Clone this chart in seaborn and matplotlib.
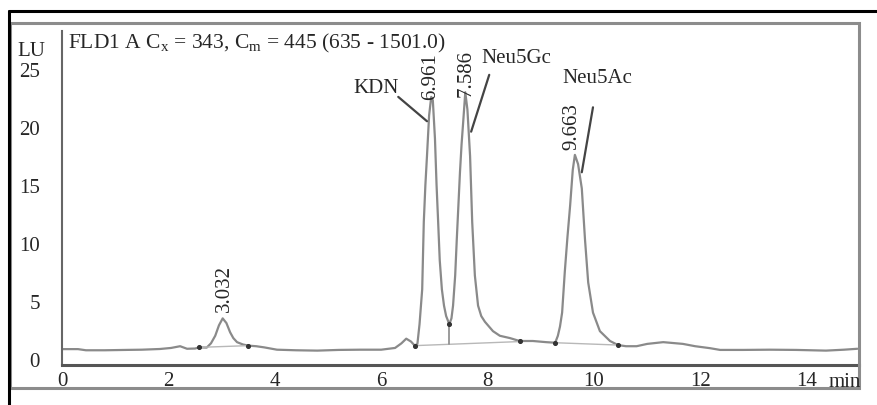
import matplotlib
matplotlib.use("Agg")
import matplotlib.pyplot as plt
import seaborn as sns
import pandas as pd
from matplotlib.lines import Line2D
from matplotlib.patches import Rectangle
from matplotlib.ticker import MultipleLocator

# ---- data ----
time_min = [0.0, 0.3, 0.45, 0.8, 1.2, 1.5, 1.84, 2.05, 2.22, 2.35, 2.5, 2.58, 2.72, 2.80, 2.88,
            2.95, 3.02, 3.09, 3.16, 3.22, 3.29, 3.4, 3.5, 3.65, 3.8, 4.04, 4.4, 4.8, 5.2, 5.6,
            6.0, 6.26, 6.38, 6.47, 6.56, 6.63, 6.68, 6.72, 6.77, 6.80, 6.83, 6.86, 6.90, 6.94,
            6.97, 7.01, 7.04, 7.07, 7.10, 7.14, 7.18, 7.22, 7.28, 7.32, 7.35, 7.39, 7.42, 7.45,
            7.48, 7.51, 7.54, 7.58, 7.62, 7.67, 7.71, 7.76, 7.82, 7.88, 7.95, 8.10, 8.23, 8.42,
            8.6, 8.85, 9.1, 9.27, 9.32, 9.36, 9.40, 9.45, 9.50, 9.55, 9.60, 9.64, 9.70, 9.77,
            9.83, 9.89, 9.98, 10.11, 10.3, 10.45, 10.6, 10.8, 11.0, 11.3, 11.67, 11.9, 12.18,
            12.37, 12.8, 13.3, 13.8, 14.36, 14.7, 14.95]
signal_lu = [0.85, 0.85, 0.75, 0.75, 0.78, 0.8, 0.86, 0.95, 1.1, 0.88, 0.9, 1.0, 0.98, 1.35, 2.0,
             2.9, 3.5, 3.1, 2.3, 1.8, 1.45, 1.25, 1.15, 1.1, 1.0, 0.8, 0.75, 0.72, 0.78, 0.8,
             0.8, 0.95, 1.35, 1.75, 1.5, 1.15, 1.3, 3.0, 6.0, 11.8, 15.0, 17.5, 21.0, 22.6,
             22.3, 19.0, 15.0, 11.8, 8.5, 6.0, 4.6, 3.7, 3.0, 3.5, 4.6, 7.2, 10.3, 13.2,
             16.1, 18.5, 20.4, 23.0, 21.5, 17.5, 11.8, 7.2, 4.6, 3.7, 3.2, 2.4, 2.0, 1.8,
             1.55, 1.55, 1.45, 1.4, 2.0, 2.8, 4.0, 7.5, 10.5, 13.2, 16.3, 17.6, 16.8, 14.7,
             10.3, 6.6, 4.0, 2.4, 1.55, 1.2, 1.1, 1.1, 1.3, 1.45, 1.3, 1.1, 0.93,
             0.78, 0.78, 0.8, 0.78, 0.72, 0.8, 0.88]

# integration baselines (start, end) and levels
baseline_t = [[2.58, 3.5], [6.63, 8.6], [9.27, 10.45]]
baseline_y = [[1.0, 1.15], [1.15, 1.5], [1.4, 1.2]]
drop_t = 7.28
drop_y = [1.26, 3.0]
marker_t = [2.58, 3.5, 6.63, 7.28, 8.6, 9.27, 10.45]
marker_y = [1.0, 1.15, 1.15, 3.0, 1.55, 1.4, 1.2]

# peak retention-time labels
rt_labels = ["3.032", "6.961", "7.586", "9.663"]
rt_x = [3.05, 6.92, 7.59, 9.59]
rt_y = [4.1, 22.4, 22.7, 18.1]

# compound names with leader lines
cmp_names = ["KDN", "Neu5Gc", "Neu5Ac"]
cmp_x = [5.9, 8.53, 10.06]
cmp_y = [23.4, 26.0, 24.3]
lead_from = [(6.32, 22.6), (8.03, 24.5), (9.98, 21.7)]
lead_to = [(6.86, 20.5), (7.69, 19.6), (9.77, 16.1)]

x_ticks = [0, 2, 4, 6, 8, 10, 12, 14]
y_ticks = [0, 5, 10, 15, 20, 25]
title_text = r"FLD1 A C$_\mathregular{x}$ = 343, C$_\mathregular{m}$ = 445 (635 - 1501.0)"

# ---- style ----
sns.set_style("white")
plt.rcParams["font.family"] = ["Liberation Serif", "DejaVu Serif"]
plt.rcParams["mathtext.fontset"] = "custom"
plt.rcParams["mathtext.rm"] = "Liberation Serif"
plt.rcParams["mathtext.it"] = "Liberation Serif:italic"

W, H = 877, 406
fig = plt.figure(figsize=(W / 100, H / 100), dpi=100)
ax = fig.add_axes([62 / W, 1 - 366 / H, (859 - 62) / W, (366 - 24) / H])
ax.set_facecolor("white")

df = pd.DataFrame({"t": time_min, "s": signal_lu})
sns.lineplot(data=df, x="t", y="s", sort=False, estimator=None, ax=ax,
             color="#8a8a8a", linewidth=1.6)

for bt, by in zip(baseline_t, baseline_y):
    ax.plot(bt, by, color="#b8b8b8", linewidth=1.0)
ax.plot([drop_t, drop_t], drop_y, color="#8a8a8a", linewidth=1.2)
ax.scatter(marker_t, marker_y, s=7, color="#333333", zorder=5)

for lab, x, y in zip(rt_labels, rt_x, rt_y):
    ax.text(x, y, lab, rotation=90, ha="center", va="bottom", fontsize=15)
for name, x, y, f, t in zip(cmp_names, cmp_x, cmp_y, lead_from, lead_to):
    ax.text(x, y, name, ha="center", va="center", fontsize=15)
    ax.plot([f[0], t[0]], [f[1], t[1]], color="#444444", linewidth=1.6)

ax.text(0.11, 27.3, title_text, ha="left", va="center", fontsize=15.5)

ax.set_xlim(0, 14.98)
ax.set_ylim(-0.52, 28.97)
ax.set_xticks(x_ticks)
ax.set_yticks(y_ticks)
ax.xaxis.set_minor_locator(MultipleLocator(0.5))
ax.yaxis.set_minor_locator(MultipleLocator(1))
ax.tick_params(axis="y", which="major", direction="out", length=7, width=1.5,
               color="#555555", labelsize=15, pad=9)
ax.tick_params(axis="y", which="minor", direction="out", length=3, width=1.5, color="#555555")
ax.tick_params(axis="x", which="both", direction="in", length=3, width=1.5,
               color="#444444", labelsize=15, pad=4)
ax.set_xlabel("")
ax.set_ylabel("")

for side in ["top", "right"]:
    ax.spines[side].set_visible(False)
ax.spines["left"].set_color("#666666")
ax.spines["left"].set_linewidth(1.5)
ax.spines["left"].set_bounds(-0.52, 28.3)
ax.spines["bottom"].set_color("#555555")
ax.spines["bottom"].set_linewidth(2.2)

# unit labels
fig.text(31 / W, 1 - 52 / H, "LU", ha="center", va="center", fontsize=15)
fig.text(845 / W, 1 - 383 / H, "min", ha="center", va="center", fontsize=15)

# gray instrument frame and black outer frame
fig.patches.append(Rectangle((10 / W, 1 - 389 / H), (859 - 10) / W, (389 - 24) / H,
                             transform=fig.transFigure, fill=False,
                             edgecolor="#8c8c8c", linewidth=2.2))
fig.lines.append(Line2D([9 / W, 9 / W], [0, 1 - 12 / H], transform=fig.transFigure,
                        color="black", linewidth=2.2))
fig.lines.append(Line2D([9 / W, 1], [1 - 12 / H, 1 - 12 / H], transform=fig.transFigure,
                        color="black", linewidth=2.2))

fig.savefig("out.png", dpi=100)
